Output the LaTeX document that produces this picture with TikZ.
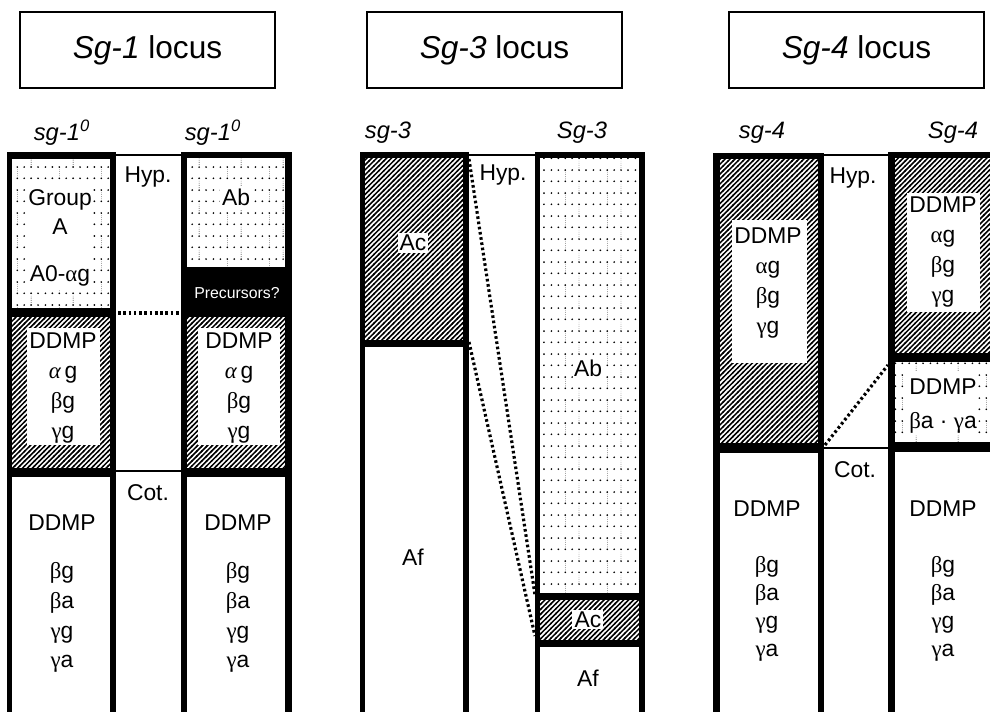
\documentclass[tikz,border=0pt]{standalone}
\usepackage{fontspec}
\setmainfont{Liberation Sans}
\newfontfamily\grk{Liberation Serif}
\usetikzlibrary{patterns}

% fill patterns of the bands
\pgfdeclarepatternformonly{hatch}{\pgfqpoint{-0.5pt}{-0.5pt}}{\pgfqpoint{3.3pt}{3.3pt}}{\pgfqpoint{2.8pt}{2.8pt}}{
  \pgfsetlinewidth{0.85pt}
  \pgfpathmoveto{\pgfqpoint{-0.5pt}{-0.5pt}}
  \pgfpathlineto{\pgfqpoint{3.3pt}{3.3pt}}
  \pgfusepath{stroke}}
\pgfdeclarepatternformonly{stipple}{\pgfpointorigin}{\pgfqpoint{24pt}{13.2pt}}{\pgfqpoint{24pt}{13.2pt}}{
  \foreach \dx in {2,6,10,14,18,22}{
    \pgfpathcircle{\pgfqpoint{\dx pt}{1pt}}{0.55pt}
    \pgfpathcircle{\pgfqpoint{\dx pt}{7.6pt}}{0.55pt}}
  \pgfusepath{fill}
  \pgfsetlinewidth{0.2pt}
  \pgfsetdash{{0.5pt}{0.8pt}}{0pt}
  \pgfpathmoveto{\pgfqpoint{10pt}{2.2pt}}
  \pgfpathlineto{\pgfqpoint{10pt}{6.4pt}}
  \pgfpathmoveto{\pgfqpoint{18pt}{8.8pt}}
  \pgfpathlineto{\pgfqpoint{18pt}{13pt}}
  \pgfusepath{stroke}}

\newcommand{\grA}{{\grk α}}
\newcommand{\grAi}{{\grk\itshape α}}
\newcommand{\grB}{{\grk β}}
\newcommand{\grC}{{\grk γ}}

\begin{document}
\begin{tikzpicture}[x=0.02cm, y=-0.02cm,
  txt/.style={font=\fontsize{13}{17}\selectfont, align=center, inner sep=0pt},
  headbox/.style={draw, line width=1pt, minimum width=5.1cm, minimum height=1.52cm, font=\fontsize{18}{22}\selectfont},
  collabel/.style={font=\fontsize{13.5}{16}\selectfont\itshape, inner sep=0pt},
  hatchfill/.style={fill=white, postaction={pattern=hatch}},
  stipfill/.style={fill=white, postaction={pattern=stipple}},
  link/.style={line width=1.8pt, dash pattern=on 1.5pt off 1.5pt},
  thinrule/.style={line width=1.1pt}]
\useasboundingbox (0,0) rectangle (990,712);
\clip (0,0) rectangle (990,712);
\fill[white] (0,0) rectangle (990,712);

% headers
\node[headbox] (loc1) at (147.5,50) {\textit{Sg-1} locus};
\node[headbox] (loc3) at (494.5,50) {\textit{Sg-3} locus};
\node[headbox] (loc4) at (856.5,50) {\textit{Sg-4} locus};

% Sg-1
\node[collabel] (sg1a) at (62,133) {sg-1\textsuperscript{0}};
\node[collabel] (sg1b) at (213,133) {sg-1\textsuperscript{0}};
\fill (7,152) rectangle (116,720);
\path[stipfill] (12,159) rectangle (110,308);
\fill[white] (27,180) rectangle (93,290);
\path[hatchfill] (12,317) rectangle (110,468);
\fill[white] (27,328) rectangle (100,445);
\fill[white] (12,477) rectangle (110,720);
\node[txt] (grpA) at (60,212) {Group\\A};
\node[txt] (aog) at (60,276) {A0-\grA g};
\node[txt] (hat1) at (63,388) {DDMP\\\grAi\,g\\\grB g\\\grC g};
\node[txt] (cot1a) at (62,594) {DDMP\\[10pt]\grB g\\\grB a\\\grC g\\\grC a};
\fill (181,152) rectangle (292,720);
\path[stipfill] (187,158) rectangle (285,267);
\fill[white] (220,186) rectangle (252,209);
\path[hatchfill] (187,317) rectangle (285,468);
\fill[white] (198,328) rectangle (280,445);
\fill[white] (187,477) rectangle (285,720);
\node[txt] (ab1) at (236,197) {Ab};
\node[txt, white, font=\fontsize{9}{11}\selectfont] (prec) at (237,293) {Precursors?};
\node[txt] (hat2) at (239,388) {DDMP\\\grAi\,g\\\grB g\\\grC g};
\node[txt] (cot1b) at (238,594) {DDMP\\[10pt]\grB g\\\grB a\\\grC g\\\grC a};
\draw[thinrule] (116,155) -- (181,155);
\draw[thinrule] (116,471) -- (181,471);
\node[txt] (hyp1) at (148,177) {Hyp.};
\node[txt] (cot1) at (148,493) {Cot.};
\coordinate (p1a) at (118,313);
\coordinate (p1b) at (181,313);
\draw[link] (p1a) -- (p1b);

% Sg-3
\node[collabel] (sg3a) at (388,133) {sg-3};
\node[collabel] (sg3b) at (582,133) {Sg-3};
\fill (360,152) rectangle (469,720);
\path[hatchfill] (365,158) rectangle (463,340);
\fill[white] (398,233) rectangle (428,253);
\fill[white] (365,347) rectangle (463,720);
\node[txt] (ac1) at (413,243) {Ac};
\node[txt] (af1) at (413,557) {Af};
\fill (535,152) rectangle (645,720);
\path[stipfill] (540,158) rectangle (639,593);
\fill[white] (573,356) rectangle (603,380);
\path[hatchfill] (540,600) rectangle (639,640);
\fill[white] (572,610) rectangle (603,629);
\fill[white] (540,647) rectangle (639,720);
\node[txt] (ab2) at (588,368) {Ab};
\node[txt] (ac2) at (588,620) {Ac};
\node[txt] (af2) at (588,678) {Af};
\draw[thinrule] (469,155) -- (535,155);
\node[txt] (hyp3) at (503,175) {Hyp.};
\coordinate (p3a) at (469,159);
\coordinate (p3b) at (535,595);
\coordinate (p3c) at (469,342);
\coordinate (p3d) at (535,636);
\draw[link] (p3a) -- (p3b);
\draw[link] (p3c) -- (p3d);

% Sg-4
\node[collabel] (sg4a) at (762,133) {sg-4};
\node[collabel] (sg4b) at (953,133) {Sg-4};
\fill (713,153) rectangle (824,720);
\path[hatchfill] (720,159) rectangle (818,443);
\fill[white] (732,220) rectangle (807,363);
\fill[white] (720,453) rectangle (818,720);
\node[txt] (hat5) at (768,283) {DDMP\\\grA g\\\grB g\\\grC g};
\node[txt, font=\fontsize{13}{16}\selectfont] (cot4a) at (767,581) {DDMP\\[16pt]\grB g\\\grB a\\\grC g\\\grC a};
\fill (888,152) rectangle (1000,720);
\path[hatchfill] (895,158) rectangle (1000,353);
\fill[white] (907,193) rectangle (980,312);
\path[stipfill] (895,362) rectangle (1000,442);
\fill[white] (905,372) rectangle (978,435);
\fill[white] (895,452) rectangle (1000,720);
\node[txt] (hat6) at (943,252) {DDMP\\\grA g\\\grB g\\\grC g};
\node[txt] (ba6) at (943,406) {DDMP\\[2pt]\grB a · \grC a};
\node[txt, font=\fontsize{13}{16}\selectfont] (cot4b) at (943,581) {DDMP\\[16pt]\grB g\\\grB a\\\grC g\\\grC a};
\draw[thinrule] (824,155) -- (888,155);
\draw[thinrule] (824,448) -- (888,448);
\node[txt] (hyp4) at (853,178) {Hyp.};
\node[txt] (cot4) at (855,470) {Cot.};
\coordinate (p4a) at (825,445);
\coordinate (p4b) at (888,365);
\draw[link] (p4a) -- (p4b);
\end{tikzpicture}
\end{document}
